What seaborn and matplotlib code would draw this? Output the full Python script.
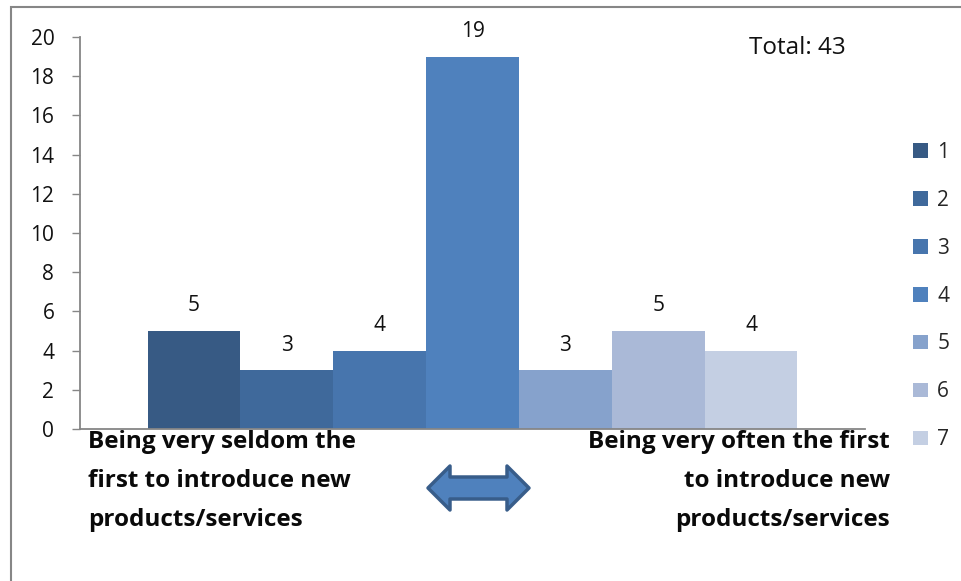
import matplotlib
matplotlib.use("Agg")
import matplotlib.pyplot as plt
from matplotlib.patches import Polygon, Rectangle
import seaborn as sns
import pandas as pd

# Survey answers on a 1-7 scale
scale_points = ["1", "2", "3", "4", "5", "6", "7"]
counts = [5, 3, 4, 19, 3, 5, 4]
bar_colors = ["#375A84", "#3F699B", "#4775AD", "#4F81BD", "#86A2CC", "#AAB9D7", "#C4CFE3"]
y_ticks = [0, 2, 4, 6, 8, 10, 12, 14, 16, 18, 20]
total_text = "Total: 43"
left_label = "Being very seldom the\nfirst to introduce new\nproducts/services"
right_label = "Being very often the first\nto introduce new\nproducts/services"

sns.set_theme(style="white")
plt.rcParams["font.family"] = ["Open Sans", "DejaVu Sans"]

W, H = 961, 581
fig = plt.figure(figsize=(W / 100, H / 100), dpi=100)

def fx(px):
    return px / W

def fy(py):
    return 1 - py / H

ax = fig.add_axes([fx(80), fy(429), fx(865) - fx(80), fy(37) - fy(429)])

df = pd.DataFrame({"group": ["all"] * len(counts), "answer": scale_points, "count": counts})
sns.barplot(data=df, x="group", y="count", hue="answer", hue_order=scale_points,
            palette=bar_colors, width=0.828, saturation=1, ax=ax, legend=True,
            linewidth=0, edgecolor="none")

for cont in ax.containers:
    ax.bar_label(cont, fmt="%d", padding=10.5, fontsize=15, color="#111111")

ax.set_xlim(-0.5, 0.5)
ax.set_ylim(0, 20)
ax.set_yticks(y_ticks)
ax.set_yticklabels([str(v) for v in y_ticks], fontsize=15, color="#111111")
ax.set_xticks([])
ax.set_xlabel("")
ax.set_ylabel("")
for side in ("top", "right"):
    ax.spines[side].set_visible(False)
for side in ("left", "bottom"):
    ax.spines[side].set_color("#868686")
    ax.spines[side].set_linewidth(1.3)
ax.tick_params(axis="y", left=True, length=6, width=1, color="#868686", pad=12.5)

handles, labels = ax.get_legend_handles_labels()
ax.legend(handles, labels, loc="center left", bbox_to_anchor=(fx(905), fy(296)),
          bbox_transform=fig.transFigure, frameon=False, fontsize=15,
          handlelength=0.7, handleheight=0.7, handletextpad=0.45,
          labelspacing=1.29, borderaxespad=0)

fig.text(fx(797), fy(48), total_text, fontsize=17.5, ha="center", va="center", color="#111111")

fig.text(fx(88), fy(430), left_label, fontsize=17.5, fontweight="bold", ha="left", va="top",
         linespacing=1.82, color="#0a0a0a")
fig.text(fx(890), fy(430), right_label, fontsize=17.5, fontweight="bold", ha="right", va="top",
         linespacing=1.82, color="#0a0a0a", multialignment="right")

# double-headed arrow between the two end labels
arrow_px = [(428, 488), (450, 466), (450, 477), (507, 477), (507, 466), (529, 488),
            (507, 510), (507, 499), (450, 499), (450, 510)]
fig.patches.append(Polygon([(fx(x), fy(y)) for x, y in arrow_px], closed=True,
                           transform=fig.transFigure, facecolor="#4F81BD",
                           edgecolor="#385D8A", linewidth=2.5, joinstyle="round"))

# outer chart frame
fig.patches.append(Rectangle((fx(11), fy(620)), fx(1000), fy(7) - fy(620),
                             transform=fig.transFigure, fill=False,
                             edgecolor="#868686", linewidth=1.5))

fig.savefig("out.png", dpi=100)
